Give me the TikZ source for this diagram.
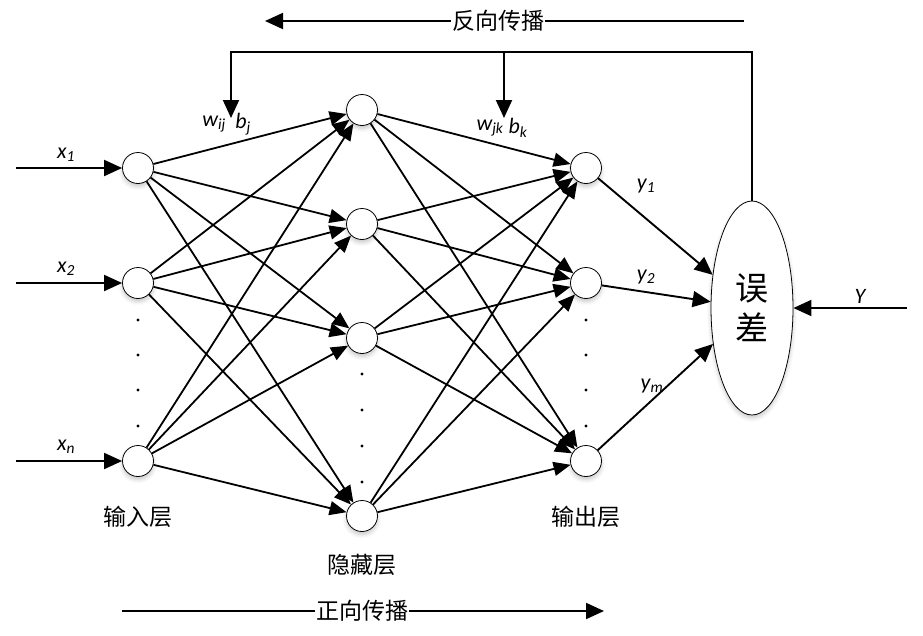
\documentclass[tikz,border=0pt]{standalone}
\usepackage{fontspec}
\setmainfont{Carlito}
\newfontfamily\cjk{Noto Sans CJK SC}
\usetikzlibrary{arrows.meta,shapes.geometric,shadows.blur}

\begin{document}
\begin{tikzpicture}[x=1pt,y=-1pt,
  neuron/.style={circle, draw, line width=0.8pt, fill=white, minimum size=31pt, inner sep=0pt,
    blur shadow={shadow xshift=0pt, shadow yshift=-3pt, shadow opacity=22, shadow blur radius=4pt}},
  conn/.style={line width=1.8pt, -{Triangle[length=17pt,width=14pt]}},
  bigarrow/.style={line width=1.9pt, -{Triangle[length=18pt,width=16pt]}},
  layerlbl/.style={font=\cjk\fontsize{23}{23}\selectfont},
  var/.style={font=\itshape\fontsize{22}{22}\selectfont, inner sep=0pt},
  dotmark/.style={circle, fill=black, minimum size=3.4pt, inner sep=0pt},
]
\useasboundingbox (0,0) rectangle (923,635);

% input layer
\node[neuron] (I1) at (138,168) {};
\node[neuron] (I2) at (138,283) {};
\node[neuron] (In) at (138,461) {};
% hidden layer
\node[neuron] (H1) at (362,110) {};
\node[neuron] (H2) at (362,224) {};
\node[neuron] (H3) at (362,338) {};
\node[neuron] (Hn) at (362,516) {};
% output layer
\node[neuron] (O1) at (586,168) {};
\node[neuron] (O2) at (586,283) {};
\node[neuron] (Om) at (586,461) {};
% error node
\node[ellipse, draw, line width=0.8pt, fill=white, minimum width=82pt, minimum height=214pt, inner sep=0pt,
  blur shadow={shadow xshift=0pt, shadow yshift=-3pt, shadow opacity=22, shadow blur radius=4pt},
  font=\cjk\fontsize{33}{40}\selectfont, align=center] (E) at (752,308) {误\\差};

% ellipsis dots
\foreach \y [count=\i] in {320,355,390,426} {
  \node[dotmark] (di\i) at (138,\y) {};
  \node[dotmark] (do\i) at (586,\y) {};
}
\foreach \y [count=\i] in {374,410,446,482} {
  \node[dotmark] (dh\i) at (362,\y) {};
}

% input -> hidden
\foreach \a in {I1,I2,In} {
  \foreach \b in {H1,H2,H3,Hn} {
    \draw[conn] (\a) -- (\b);
  }
}
% hidden -> output
\foreach \a in {H1,H2,H3,Hn} {
  \foreach \b in {O1,O2,Om} {
    \draw[conn] (\a) -- (\b);
  }
}

% inputs
\coordinate (s1) at (16,168);
\coordinate (s2) at (16,283);
\coordinate (sn) at (16,461);
\draw[bigarrow] (s1) -- (I1);
\draw[bigarrow] (s2) -- (I2);
\draw[bigarrow] (sn) -- (In);
\node[var] (lx1) at (66,155) {x\textsubscript{1}};
\node[var] (lx2) at (66,269) {x\textsubscript{2}};
\node[var] (lxn) at (66,447) {x\textsubscript{n}};

% outputs to error
\draw[bigarrow] (O1) -- (E);
\draw[bigarrow] (O2) -- (E);
\draw[bigarrow] (Om) -- (E);
\node[var] (ly1) at (646,186) {y\textsubscript{1}};
\node[var] (ly2) at (646,277) {y\textsubscript{2}};
\node[var] (lym) at (652,386) {y\textsubscript{m}};

% target
\coordinate (tY) at (907,308);
\draw[bigarrow] (tY) -- (E);
\node[var] (lY) at (860,296) {Y};

% feedback path
\coordinate (f1) at (752,52);
\coordinate (f2) at (231,52);
\coordinate (f3) at (231,118);
\coordinate (g1) at (504,52);
\coordinate (g2) at (504,118);
\draw[bigarrow] (E.north) -- (f1) -- (f2) -- (f3);
\draw[bigarrow] (g1) -- (g2);
\node[var] (lw1) at (214,124) {w\textsubscript{ij}};
\node[var] (lb1) at (243,124) {b\textsubscript{j}};
\node[var] (lw2) at (490,128) {w\textsubscript{jk}};
\node[var] (lb2) at (518,128) {b\textsubscript{k}};

% direction arrows
\coordinate (bpR) at (744,21);
\coordinate (bpL) at (265,21);
\draw[bigarrow] (bpR) -- (bpL);
\node[layerlbl, fill=white, inner xsep=1pt, inner ysep=2pt] (bp) at (498,21) {反向传播};

\coordinate (fpL) at (122,611);
\coordinate (fpR) at (604,611);
\draw[bigarrow] (fpL) -- (fpR);
\node[layerlbl, fill=white, inner xsep=1pt, inner ysep=2pt] (fp) at (362,611) {正向传播};

% layer names
\node[layerlbl] (Lin) at (138,517) {输入层};
\node[layerlbl] (Lhid) at (362,565) {隐藏层};
\node[layerlbl] (Lout) at (586,517) {输出层};
\end{tikzpicture}
\end{document}
